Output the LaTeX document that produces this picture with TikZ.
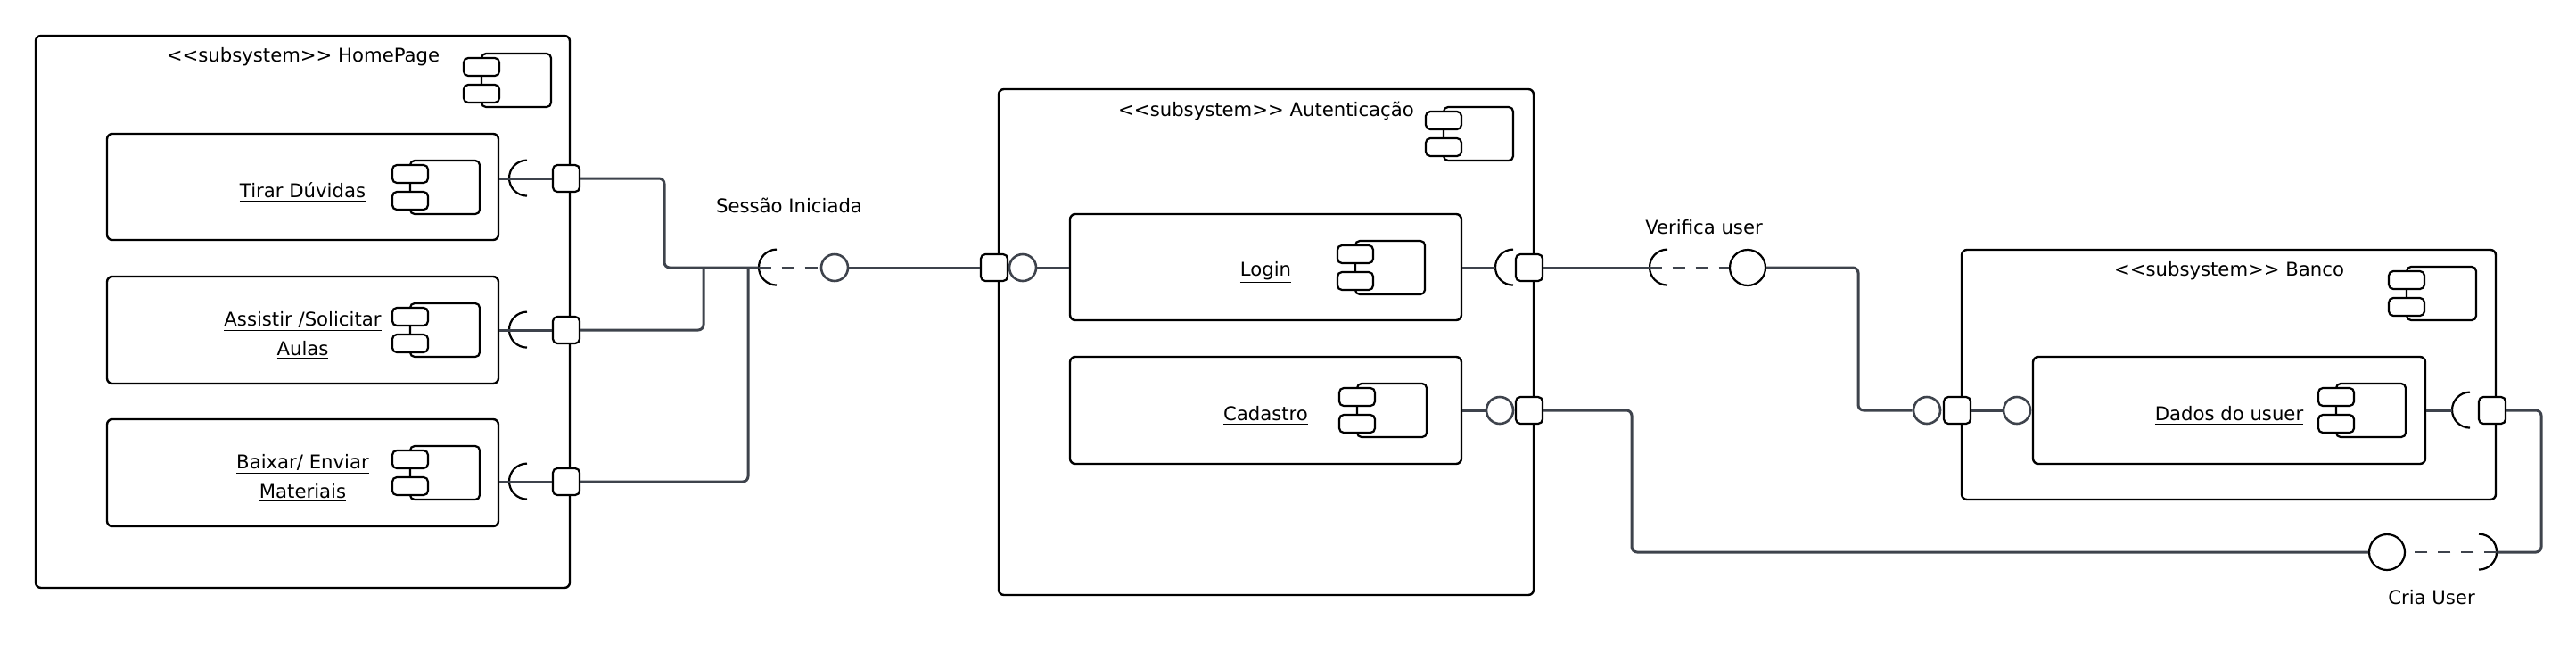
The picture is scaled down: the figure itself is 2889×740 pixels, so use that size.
\documentclass[tikz,border=0pt]{standalone}
\usepackage{fontspec}
\setmainfont{DejaVu Sans}[Ligatures=TeXOff]
\usepackage{xcolor}
\usepackage{tikz}
\usetikzlibrary{fit}
\definecolor{wirecol}{RGB}{62,67,76}
\newcommand{\stereo}[1]{<\kern0pt<#1>\kern0pt>}
\tikzset{
    subsys/.style = {draw=black, line width=1.2pt, rounded corners=3pt, inner sep=0pt},
    comp/.style = {subsys},
    ctext/.style = {inner sep=0pt, align=center, yshift=-3pt, font=\fontsize{10.6}{16.5}\selectfont},
    ttl/.style = {inner sep=0pt, font=\fontsize{10.6}{12}\selectfont},
    icon/.style = {draw=black, fill=white, line width=1.1pt, rounded corners=2.5pt},
    port/.style = {rectangle, draw=black, fill=white, line width=1.1pt, rounded corners=2.5pt, minimum size=15pt, inner sep=0pt},
    ball/.style = {circle, draw=wirecol, fill=white, line width=1.3pt, minimum size=15pt, inner sep=0pt},
    bigball/.style = {ball, draw=black, line width=1.1pt, minimum size=20pt},
    hole/.style = {circle, minimum size=20pt, inner sep=0pt},
    socket/.style = {draw=black, line width=1.1pt},
    wire/.style = {draw=wirecol, line width=1.5pt, rounded corners=3pt},
    dashwire/.style = {wire, line width=1.3pt, dash pattern=on 7pt off 6pt},
    compicon/.pic = {
        \draw[icon] (0,0) rectangle (78,60);
        \draw[icon] (-20,5) rectangle (20,25);
        \draw[icon] (-20,35) rectangle (20,55);
    }
}

\begin{document}
\begin{tikzpicture}[x=0.5pt, y=-0.5pt]
    \useasboundingbox (0,0) rectangle (2889,740);

    \node[subsys, fit={(40,40) (639,659)}] (home) {};
    \node[ttl] (home-t) at (340,64) {\stereo{subsystem} HomePage};
    \pic at (540,60) {compicon};
    \node[comp, fit={(120,150) (559,269)}] (tirar) {};
    \node[ctext] (tirar-t) at (tirar.center) {\underline{Tirar Dúvidas}};
    \pic at (460,180) {compicon};
    \node[comp, fit={(120,310) (559,430)}] (aulas) {};
    \node[ctext] (aulas-t) at (aulas.center) {\underline{Assistir /Solicitar}\\\underline{Aulas}};
    \pic at (460,340) {compicon};
    \node[comp, fit={(120,470) (559,590)}] (materiais) {};
    \node[ctext] (materiais-t) at (materiais.center) {\underline{Baixar/ Enviar}\\\underline{Materiais}};
    \pic at (460,500) {compicon};

    \node[subsys, fit={(1120,100) (1720,667)}] (auth) {};
    \node[ttl] (auth-t) at (1420,124) {\stereo{subsystem} Autenticação};
    \pic at (1619,120) {compicon};
    \node[comp, fit={(1200,240) (1639,359)}] (login) {};
    \node[ctext] (login-t) at (login.center) {\underline{Login}};
    \pic at (1520,270) {compicon};
    \node[comp, fit={(1200,400) (1639,520)}] (cadastro) {};
    \node[ctext] (cadastro-t) at (cadastro.center) {\underline{Cadastro}};
    \pic at (1522,430) {compicon};

    \node[subsys, fit={(2200,280) (2799,560)}] (banco) {};
    \node[ttl] (banco-t) at (2500,304) {\stereo{subsystem} Banco};
    \pic at (2699,299) {compicon};
    \node[comp, fit={(2280,400) (2720,520)}] (dados) {};
    \node[ctext] (dados-t) at (dados.center) {\underline{Dados do usuer}};
    \pic at (2620,430) {compicon};

    \node[port] (h1) at (635,200) {};
    \node[port] (h2) at (635,370) {};
    \node[port] (h3) at (635,540) {};
    \node[hole] (k1) at (591,200) {};
    \node[hole] (k2) at (591,370) {};
    \node[hole] (k3) at (591,540) {};
    \foreach \k in {k1,k2,k3}
        \draw[socket] (\k.north) arc[start angle=90, end angle=270, radius=10pt];
    \draw[wire] (tirar.east |- h1) -- (h1);
    \draw[wire] (aulas.east |- h2) -- (h2);
    \draw[wire] (materiais.east |- h3) -- (h3);

    \node[hole] (k4) at (871,300) {};
    \draw[socket] (k4.north) arc[start angle=90, end angle=270, radius=10pt];
    \node[ball] (s1) at (936,300) {};
    \node[ttl] (s1-t) at (885,230) {Sessão Iniciada};
    \node[port] (a1) at (1115,300) {};
    \node[ball] (b2) at (1147,300) {};
    \draw[wire] (h1) -| (745,300) -- (k4.west);
    \draw[wire] (h2) -| (789,300);
    \draw[wire] (h3) -| (839,300);
    \draw[dashwire] (k4.west) -- (s1);
    \draw[wire] (s1) -- (a1);
    \draw[wire] (b2) -- (b2 -| login.west);

    \node[port] (a2) at (1715,300) {};
    \node[hole] (k5) at (1697,300) {};
    \draw[socket] (k5.north) arc[start angle=90, end angle=270, radius=10pt];
    \draw[wire] (login.east |- a2) -- (k5.west);
    \node[port] (a3) at (1715,460) {};
    \node[ball] (b3) at (1682,460) {};
    \draw[wire] (cadastro.east |- b3) -- (b3);

    \node[hole] (k6) at (1870,300) {};
    \draw[socket] (k6.north) arc[start angle=90, end angle=270, radius=10pt];
    \node[bigball] (v1) at (1960,300) {};
    \node[ttl] (v1-t) at (1911,255) {Verifica user};
    \node[ball] (b4) at (2161,460) {};
    \node[port] (c1) at (2195,460) {};
    \node[ball] (b5) at (2262,460) {};
    \draw[wire] (a2) -- (k6.west);
    \draw[dashwire] (k6.west) -- (v1);
    \draw[wire] (v1) -| (2084,460) -- (b4);
    \draw[wire] (c1) -- (b5);

    \node[hole] (k7) at (2770,460) {};
    \draw[socket] (k7.north) arc[start angle=90, end angle=270, radius=10pt];
    \node[port] (c2) at (2795,460) {};
    \draw[wire] (dados.east |- c2) -- (k7.west);

    \node[hole] (k8) at (2780,619) {};
    \draw[socket] (k8.north) arc[start angle=90, end angle=-90, radius=10pt];
    \node[bigball] (v2) at (2677,619) {};
    \node[ttl] (v2-t) at (2727,670) {Cria User};
    \draw[wire] (c2) -| (2850,619) -- (k8.east);
    \draw[dashwire] (k8.east) -- (v2);
    \draw[wire] (v2) -| (1830,460) -- (a3);
\end{tikzpicture}
\end{document}
